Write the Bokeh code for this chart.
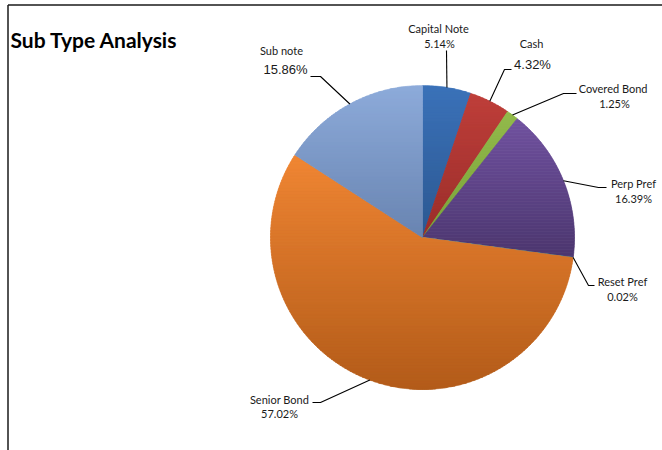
import numpy as np
from bokeh.plotting import figure
from bokeh.models import Range1d, ColumnDataSource
from bokeh.core.properties import value
from bokeh.embed import file_html
from bokeh.resources import INLINE

# ---------------- data ----------------
title_text = "Sub Type Analysis"
categories = ["Capital Note", "Cash", "Covered  Bond", "Perp Pref",
              "Reset Pref", "Senior Bond", "Sub note"]
shares = [5.14, 4.32, 1.25, 16.39, 0.02, 57.02, 15.86]
share_labels = ["5.14%", "4.32%", "1.25%", "16.39%", "0.02%", "57.02%", "15.86%"]

# ---------------- styles ----------------
top_colors = ["#3b72b9", "#bf403b", "#93ba4c", "#7152a0", "#4bacc6", "#f08634", "#8dabda"]
bottom_colors = ["#2c5891", "#9b2e2b", "#7aa33a", "#4c376f", "#3a8ba3", "#b35c1a", "#6984b1"]

W, H = 662, 450
CX, CY, R = 422, 237, 152

# label layout (screen px): name pos, pct pos, large pct font?, leader path after rim point
label_layout = [
    dict(name=(438, 28), pct=(439, 43), big=False, path=[(446, 50)]),
    dict(name=(531, 43), pct=(532, 64), big=True, path=[(504, 69), (511, 69)]),
    dict(name=(614, 88), pct=(614, 103), big=False, path=[(563, 93), (576, 93)]),
    dict(name=(633, 183), pct=(633, 198), big=False, path=[(598, 187), (606, 187)]),
    dict(name=(622, 281), pct=(622, 296), big=False, path=[(588, 285), (594, 285)]),
    dict(name=(279, 399), pct=(279, 413), big=False, path=[(320, 402), (312, 402)]),
    dict(name=(281, 50), pct=(285, 69), big=True, path=[(320, 76), (310, 76)]),
]


def hex2rgb(h):
    h = h.lstrip("#")
    return np.array([int(h[i:i + 2], 16) for i in (0, 2, 4)], dtype=float)


def rgb2hex(c):
    c = np.clip(np.round(c), 0, 255).astype(int)
    return "#%02x%02x%02x" % tuple(c)


def clip_poly(pts, c, keep_above):
    def inside(p):
        return p[1] >= c if keep_above else p[1] <= c

    out = []
    n = len(pts)
    for i in range(n):
        S = pts[i - 1]
        E = pts[i]
        if inside(E):
            if not inside(S):
                t = (c - S[1]) / (E[1] - S[1])
                out.append((S[0] + t * (E[0] - S[0]), c))
            out.append(E)
        elif inside(S):
            t = (c - S[1]) / (E[1] - S[1])
            out.append((S[0] + t * (E[0] - S[0]), c))
    return out


fracs = np.array(shares) / np.sum(shares)
ends = np.cumsum(fracs)
starts = ends - fracs

xs, ys, cols = [], [], []
for i in range(len(shares)):
    t0, t1 = starts[i], ends[i]
    n = max(2, int(np.ceil((t1 - t0) * 2 * np.pi * R / 2)) + 1)
    t = np.linspace(t0, t1, n) * 2 * np.pi
    poly = [(CX, CY)] + list(zip(CX + R * np.sin(t), CY - R * np.cos(t)))
    py = [q[1] for q in poly]
    ymin, ymax = min(py), max(py)
    c_top, c_bot = hex2rgb(top_colors[i]), hex2rgb(bottom_colors[i])
    step = 1.5
    y = ymin
    while y < ymax:
        y1 = min(y + step + 0.6, ymax)
        band = clip_poly(clip_poly(poly, y, True), y1, False)
        if len(band) >= 3:
            f = ((y + step / 2) - ymin) / max(ymax - ymin, 1e-6)
            col = rgb2hex(c_top + (c_bot - c_top) * min(max(f, 0), 1))
            xs.append([q[0] for q in band])
            ys.append([q[1] for q in band])
            cols.append(col)
        y += step

p = figure(width=W, height=H, x_range=Range1d(0, W), y_range=Range1d(H, 0),
           output_backend="svg", toolbar_location=None, min_border=0)
p.axis.visible = False
p.grid.visible = False
p.outline_line_color = None
p.background_fill_color = "white"
p.border_fill_color = "white"

p.patches(xs="xs", ys="ys", fill_color="c", line_color="c", line_width=0.5,
          source=ColumnDataSource(dict(xs=xs, ys=ys, c=cols)))

# leader lines from slice mid-angles on the rim
lx, ly = [], []
for i in range(len(shares)):
    m = (starts[i] + ends[i]) / 2 * 2 * np.pi
    sx, sy = CX + R * np.sin(m), CY - R * np.cos(m)
    path = [(sx, sy)] + label_layout[i]["path"]
    lx.append([q[0] for q in path])
    ly.append([q[1] for q in path])
p.multi_line(xs=lx, ys=ly, line_color="black", line_width=1.1)

# labels
name_src = ColumnDataSource(dict(
    x=[l["name"][0] for l in label_layout],
    y=[l["name"][1] for l in label_layout],
    t=categories))
p.text(x="x", y="y", text="t", source=name_src, text_font=value("Lato"),
       text_font_size="11px", text_align="center", text_baseline="middle",
       text_color="#1a1a1a")

small = [i for i, l in enumerate(label_layout) if not l["big"]]
big = [i for i, l in enumerate(label_layout) if l["big"]]
for idxs, font, size in ((small, "Lato", "11px"), (big, "Liberation Sans", "13px")):
    src = ColumnDataSource(dict(
        x=[label_layout[i]["pct"][0] for i in idxs],
        y=[label_layout[i]["pct"][1] for i in idxs],
        t=[share_labels[i] for i in idxs]))
    p.text(x="x", y="y", text="t", source=src, text_font=value(font),
           text_font_size=size, text_align="center", text_baseline="middle",
           text_color="#1a1a1a")

# title
p.text(x=[10], y=[39], text=[title_text], text_font=value("Lato"),
       text_font_size="21px", text_font_style="bold", text_align="left",
       text_baseline="alphabetic", text_color="black")

# frame lines (top and left)
p.segment(x0=[7.5, 7.5], y0=[4.5, 4.5], x1=[W, 7.5], y1=[4.5, H],
          line_color="#1a1a1a", line_width=1.5)

open("out.html", "w").write(file_html(p, INLINE))
